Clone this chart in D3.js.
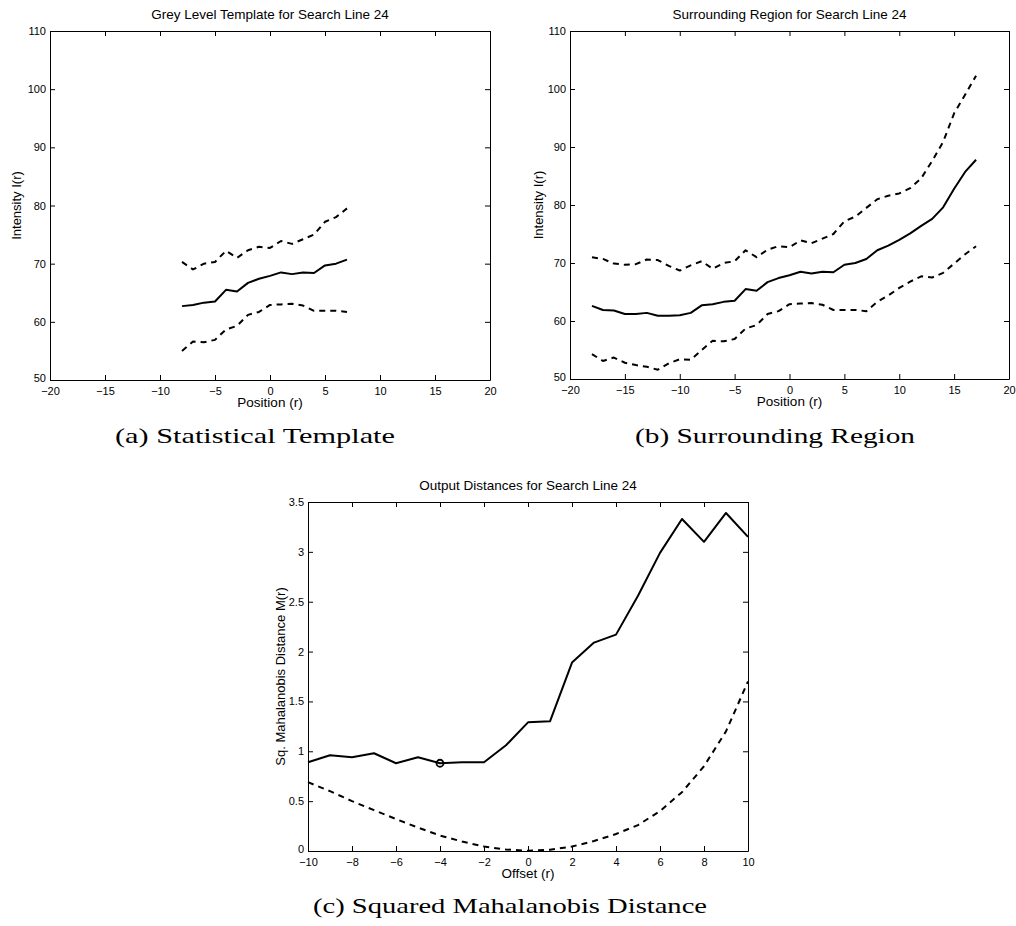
<!DOCTYPE html>
<html>
<head>
<meta charset="utf-8">
<script src="https://cdnjs.cloudflare.com/ajax/libs/d3/7.8.5/d3.min.js"></script>
<style>
  body { margin: 0; background: #fff; }
  svg { display: block; background: #fff; }
  .tick line { stroke: #000; }
  .domain { stroke: #000; }
</style>
</head>
<body>
<svg width="1016" height="926"></svg>
<script>
// Template profile (a): positions -8..7
var templatePos = [-8, -7, -6, -5, -4, -3, -2, -1, 0, 1, 2, 3, 4, 5, 6, 7];
var templateMean = [62.7, 62.9, 63.3, 63.5, 65.5, 65.2, 66.7, 67.4, 67.9, 68.5, 68.2, 68.5, 68.4, 69.7, 70.0, 70.7];
var templateUpper = [70.3, 69.0, 70.0, 70.3, 72.2, 71.0, 72.3, 72.9, 72.7, 73.9, 73.4, 74.2, 75.0, 77.2, 78.0, 79.5];
var templateLower = [55.0, 56.6, 56.5, 56.9, 58.7, 59.3, 61.2, 61.7, 62.9, 63.0, 63.1, 62.8, 61.9, 61.9, 61.9, 61.7];

// Surrounding region (b): positions -18..17
var regionPos = [-18, -17, -16, -15, -14, -13, -12, -11, -10, -9, -8, -7, -6, -5, -4, -3, -2, -1,
                 0, 1, 2, 3, 4, 5, 6, 7, 8, 9, 10, 11, 12, 13, 14, 15, 16, 17];
var regionMean = [62.6, 61.9, 61.8, 61.2, 61.2, 61.4, 60.9, 60.9, 61.0, 61.4, 62.7, 62.9, 63.3, 63.5, 65.5, 65.2, 66.7, 67.4,
                  67.9, 68.5, 68.2, 68.5, 68.4, 69.7, 70.0, 70.7, 72.2, 73.0, 74.0, 75.1, 76.4, 77.6, 79.6, 82.8, 85.7, 87.8];
var regionUpper = [71.0, 70.7, 69.9, 69.7, 69.8, 70.6, 70.5, 69.5, 68.7, 69.6, 70.3, 69.0, 70.0, 70.3, 72.2, 71.0, 72.3, 72.9,
                   72.7, 73.9, 73.4, 74.2, 75.0, 77.2, 78.0, 79.5, 81.0, 81.6, 82.0, 82.9, 84.6, 87.6, 90.9, 95.8, 99.0, 102.3];
var regionLower = [54.3, 53.1, 53.7, 52.8, 52.4, 52.1, 51.6, 52.7, 53.4, 53.3, 55.0, 56.6, 56.5, 56.9, 58.7, 59.3, 61.2, 61.7,
                   62.9, 63.0, 63.1, 62.8, 61.9, 61.9, 61.9, 61.7, 63.3, 64.4, 65.7, 66.8, 67.7, 67.5, 68.3, 69.9, 71.5, 72.9];

// Output distances (c): offsets -10..10
var offsets = [-10, -9, -8, -7, -6, -5, -4, -3, -2, -1, 0, 1, 2, 3, 4, 5, 6, 7, 8, 9, 10];
var mahalDist = [0.89, 0.96, 0.94, 0.98, 0.88, 0.94, 0.88, 0.89, 0.89, 1.06, 1.29, 1.30, 1.89, 2.09, 2.17, 2.56, 2.99, 3.33, 3.10, 3.39, 3.15];
var offsetPenalty = [0.69, 0.60, 0.50, 0.41, 0.32, 0.235, 0.155, 0.095, 0.045, 0.015, 0.003, 0.012, 0.045, 0.10, 0.17, 0.26, 0.40, 0.59, 0.85, 1.20, 1.70];
var bestOffset = -4;

var posTicks = [-20, -15, -10, -5, 0, 5, 10, 15, 20];
var intensityTicks = [50, 60, 70, 80, 90, 100, 110];
var offsetTicks = [-10, -8, -6, -4, -2, 0, 2, 4, 6, 8, 10];
var distTicks = [0, 0.5, 1, 1.5, 2, 2.5, 3, 3.5];

var svg = d3.select("svg");
var sans = "Liberation Sans, Arial, sans-serif";
var serif = "Liberation Serif, Times New Roman, serif";
var fmt = d3.format("~g");

function drawPanel(p) {
    var x = d3.scaleLinear().domain(p.xDomain).range([p.left, p.left + p.w]);
    var y = d3.scaleLinear().domain(p.yDomain).range([p.top + p.h, p.top]);
    var g = svg.append("g");

    // box with inward ticks on all four sides
    g.append("g").attr("transform", "translate(0," + (p.top + p.h) + ")")
        .call(d3.axisBottom(x).tickValues(p.xTicks).tickFormat(fmt).tickSizeInner(-5).tickSizeOuter(0).tickPadding(7));
    g.append("g").attr("transform", "translate(0," + p.top + ")")
        .call(d3.axisTop(x).tickValues(p.xTicks).tickFormat("").tickSizeInner(-5).tickSizeOuter(0));
    var yAx = g.append("g").attr("transform", "translate(" + p.left + ",0)")
        .call(d3.axisLeft(y).tickValues(p.yTicks).tickFormat(fmt).tickSizeInner(-5).tickSizeOuter(0).tickPadding(4));
    g.append("g").attr("transform", "translate(" + (p.left + p.w) + ",0)")
        .call(d3.axisRight(y).tickValues(p.yTicks).tickFormat("").tickSizeInner(-5).tickSizeOuter(0));

    g.selectAll(".tick text").attr("font-family", sans).attr("font-size", 11).attr("fill", "#000");
    // lowest y label sits just above the corner, as in the original
    yAx.selectAll(".tick text").filter(function (d) { return d === p.yDomain[0]; }).attr("dy", "0.1em");
    g.selectAll(".domain").attr("stroke-width", 1);

    var line = d3.line()
        .x(function (d) { return x(d[0]); })
        .y(function (d) { return y(d[1]); });

    p.series.forEach(function (s) {
        g.append("path")
            .datum(d3.zip(s.xs, s.ys))
            .attr("d", line)
            .attr("fill", "none")
            .attr("stroke", "#000")
            .attr("stroke-width", 2)
            .attr("stroke-linejoin", "round")
            .attr("stroke-dasharray", s.dashed ? "6,5" : null);
    });

    if (p.marker) {
        g.append("circle")
            .attr("cx", x(p.marker[0]))
            .attr("cy", y(p.marker[1]))
            .attr("r", 3.5)
            .attr("fill", "none")
            .attr("stroke", "#000")
            .attr("stroke-width", 1.8);
    }

    // title and axis labels
    g.append("text")
        .attr("x", p.left + p.w / 2).attr("y", p.top - 12)
        .attr("text-anchor", "middle")
        .attr("font-family", sans).attr("font-size", 13.5)
        .text(p.title);
    g.append("text")
        .attr("x", p.left + p.w / 2).attr("y", p.top + p.h + 27)
        .attr("text-anchor", "middle")
        .attr("font-family", sans).attr("font-size", 13.5)
        .text(p.xLabel);
    g.append("text")
        .attr("transform", "translate(" + p.yLabelX + "," + (p.top + p.h / 2) + ") rotate(-90)")
        .attr("text-anchor", "middle")
        .attr("font-family", sans).attr("font-size", 13)
        .text(p.yLabel);

    // caption, stretched to the width of the original typeset line
    g.append("text")
        .attr("x", p.captionX).attr("y", p.captionY)
        .attr("text-anchor", "middle")
        .attr("font-family", serif).attr("font-size", 22)
        .attr("textLength", p.captionW)
        .attr("lengthAdjust", "spacingAndGlyphs")
        .text(p.caption);
}

drawPanel({
    left: 50, top: 31, w: 440, h: 349,
    xDomain: [-20, 20], yDomain: [50, 110],
    xTicks: posTicks, yTicks: intensityTicks,
    title: "Grey Level Template for Search Line 24",
    xLabel: "Position (r)", yLabel: "Intensity I(r)", yLabelX: 21,
    caption: "(a) Statistical Template", captionX: 255, captionY: 443, captionW: 280,
    series: [
        { xs: templatePos, ys: templateMean },
        { xs: templatePos, ys: templateUpper, dashed: true },
        { xs: templatePos, ys: templateLower, dashed: true }
    ]
});

drawPanel({
    left: 570, top: 31, w: 439, h: 348,
    xDomain: [-20, 20], yDomain: [50, 110],
    xTicks: posTicks, yTicks: intensityTicks,
    title: "Surrounding Region for Search Line 24",
    xLabel: "Position (r)", yLabel: "Intensity I(r)", yLabelX: 543,
    caption: "(b) Surrounding Region", captionX: 775, captionY: 443, captionW: 280,
    series: [
        { xs: regionPos, ys: regionMean },
        { xs: regionPos, ys: regionUpper, dashed: true },
        { xs: regionPos, ys: regionLower, dashed: true }
    ]
});

drawPanel({
    left: 308, top: 502, w: 440, h: 349,
    xDomain: [-10, 10], yDomain: [0, 3.5],
    xTicks: offsetTicks, yTicks: distTicks,
    title: "Output Distances for Search Line 24",
    xLabel: "Offset (r)", yLabel: "Sq. Mahalanobis Distance M(r)", yLabelX: 285,
    caption: "(c) Squared Mahalanobis Distance", captionX: 510, captionY: 913, captionW: 394,
    series: [
        { xs: offsets, ys: mahalDist },
        { xs: offsets, ys: offsetPenalty, dashed: true }
    ],
    marker: [bestOffset, mahalDist[offsets.indexOf(bestOffset)]]
});
</script>
</body>
</html>
